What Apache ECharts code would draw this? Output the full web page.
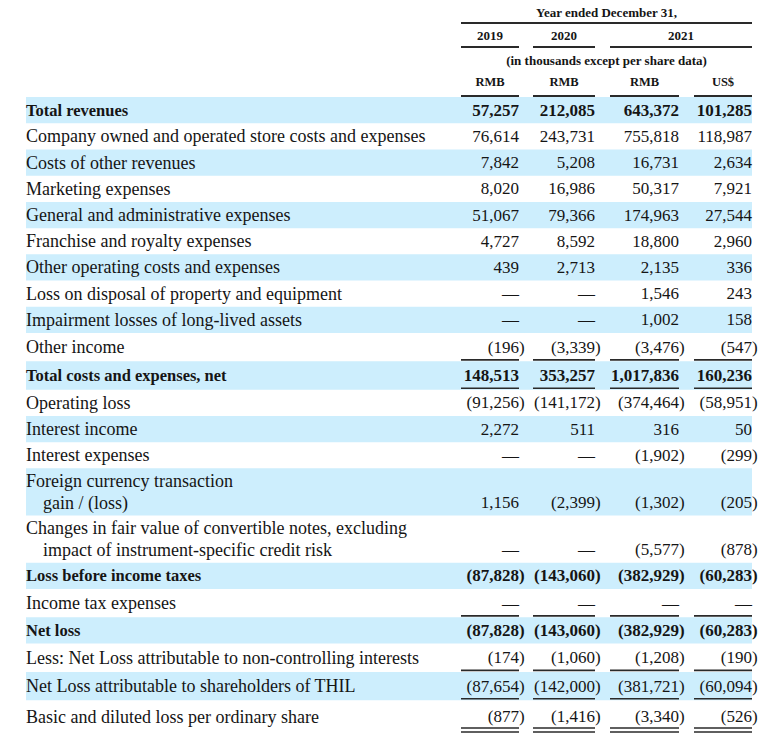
<!DOCTYPE html>
<html><head><meta charset="utf-8">
<script src="https://cdn.jsdelivr.net/npm/echarts@6/dist/echarts.min.js"></script>
<style>html,body{margin:0;padding:0;background:#fff}#chart{width:770px;height:742px}</style>
</head><body><div id="chart"></div>
<script>
// ---------- data ----------
const rowLabels = [
  'Total revenues',
  'Company owned and operated store costs and expenses',
  'Costs of other revenues',
  'Marketing expenses',
  'General and administrative expenses',
  'Franchise and royalty expenses',
  'Other operating costs and expenses',
  'Loss on disposal of property and equipment',
  'Impairment losses of long-lived assets',
  'Other income',
  'Total costs and expenses, net',
  'Operating loss',
  'Interest income',
  'Interest expenses',
  'Foreign currency transaction\ngain / (loss)',
  'Changes in fair value of convertible notes, excluding\nimpact of instrument-specific credit risk',
  'Loss before income taxes',
  'Income tax expenses',
  'Net loss',
  'Less: Net Loss attributable to non-controlling interests',
  'Net Loss attributable to shareholders of THIL',
  'Basic and diluted loss per ordinary share'
];
const boldRows = [0, 10, 16, 18];
const headerTitle = 'Year ended December 31,';
const headerNote = '(in thousands except per share data)';
const yearLabels = ['2019', '2020', '2021'];
const currencyLabels = ['RMB', 'RMB', 'RMB', 'US$'];
const rmb2019 = [57257, 76614, 7842, 8020, 51067, 4727, 439, null, null, -196, 148513, -91256, 2272, null, 1156, null, -87828, null, -87828, -174, -87654, -877];
const rmb2020 = [212085, 243731, 5208, 16986, 79366, 8592, 2713, null, null, -3339, 353257, -141172, 511, null, -2399, null, -143060, null, -143060, -1060, -142000, -1416];
const rmb2021 = [643372, 755818, 16731, 50317, 174963, 18800, 2135, 1546, 1002, -3476, 1017836, -374464, 316, -1902, -1302, -5577, -382929, null, -382929, -1208, -381721, -3340];
const usd2021 = [101285, 118987, 2634, 7921, 27544, 2960, 336, 243, 158, -547, 160236, -58951, 50, -299, -205, -878, -60283, null, -60283, -190, -60094, -526];
const columns = [rmb2019, rmb2020, rmb2021, usd2021];

// ---------- layout / style ----------
const layout = {
  colLeft: [461, 533, 610, 694],
  colRight: [519, 595, 679, 752],
  yearSpans: [[0, 0], [1, 1], [2, 3]],
  bandLeft: 26, bandRight: 752,
  indent: 17, lineGap: 21.5,
  ruleAfter: {9: 1, 10: 1, 17: 1, 19: 1, 20: 1, 21: 2}
};
const textColor = '#151515';
const ruleColor = '#2a2a2a';
const bandColor = '#cdeefd';
const FONT = '"Liberation Serif", "Times New Roman", serif';

const rowWeight = rowLabels.map((l, r) =>
  (l.split('\n').length > 1 ? 1.8 : 1) +
  (layout.ruleAfter[r] === 1 ? 0.08 : layout.ruleAfter[r] === 2 ? 0.25 : 0));
const rowStart = [];
let acc = 0;
rowWeight.forEach(w => { rowStart.push(acc); acc += w; });
const totalUnits = acc;

function fmt(v) {
  const s = Math.abs(v).toString().replace(/\B(?=(\d{3})+(?!\d))/g, ',');
  return v < 0 ? '(' + s : s;
}

function renderItem(params, api) {
  const r = api.value(0);
  const pTop = api.coord([layout.bandLeft, rowStart[r]]);
  const pBot = api.coord([layout.bandRight, rowStart[r] + rowWeight[r]]);
  const children = [];
  if (r % 2 === 0) {
    children.push({type: 'rect', shape: {x: pTop[0], y: pTop[1], width: pBot[0] - pTop[0], height: pBot[1] - pTop[1]}, style: {fill: bandColor}});
  }
  const bold = boldRows.indexOf(r) >= 0;
  const lines = rowLabels[r].split('\n');
  const cy = (pTop[1] + pBot[1]) / 2;
  lines.forEach((t, i) => {
    const ly = cy + (i - (lines.length - 1) / 2) * layout.lineGap;
    children.push({type: 'text', style: {
      text: t, x: pTop[0] + (i > 0 ? layout.indent : 0), y: ly,
      align: 'left', verticalAlign: 'middle',
      font: (bold ? 'bold 16.5px ' : '18px ') + FONT, fill: textColor}});
  });
  const ny = cy + ((lines.length - 1) / 2) * layout.lineGap;
  const numFont = (bold ? 'bold ' : '') + '17px ' + FONT;
  columns.forEach((arr, c) => {
    const v = arr[r];
    const xr = api.coord([layout.colRight[c], 0])[0];
    const txt = v == null ? '\u2014' : fmt(v);
    children.push({type: 'text', style: {text: txt, x: xr, y: ny, align: 'right', verticalAlign: 'middle', font: numFont, fill: textColor}});
    if (v != null && v < 0) {
      children.push({type: 'text', style: {text: ')', x: xr, y: ny, align: 'left', verticalAlign: 'middle', font: numFont, fill: textColor}});
    }
  });
  const rule = layout.ruleAfter[r];
  if (rule) {
    layout.colLeft.forEach((xl, c) => {
      const a = api.coord([xl, 0])[0], b = api.coord([layout.colRight[c], 0])[0];
      const ys = rule === 2 ? [pBot[1] - 5, pBot[1] - 1] : [pBot[1] - 1.5];
      ys.forEach(y => children.push({type: 'line', shape: {x1: a, y1: y, x2: b, y2: y}, style: {stroke: ruleColor, lineWidth: 1.6}}));
    });
  }
  return {type: 'group', children};
}

// header graphics
const hFont = 'bold 13px ' + FONT;
const header = [];
const allLeft = layout.colLeft[0], allRight = layout.colRight[3];
header.push({type: 'text', style: {text: headerTitle, x: (allLeft + allRight) / 2, y: 12, align: 'center', verticalAlign: 'middle', font: hFont, fill: textColor}});
header.push({type: 'line', shape: {x1: allLeft, y1: 23, x2: allRight, y2: 23}, style: {stroke: ruleColor, lineWidth: 2}});
yearLabels.forEach((y, i) => {
  const [s, e] = layout.yearSpans[i];
  const xl = layout.colLeft[s], xr = layout.colRight[e];
  header.push({type: 'text', style: {text: y, x: (xl + xr) / 2, y: 35, align: 'center', verticalAlign: 'middle', font: hFont, fill: textColor}});
  header.push({type: 'line', shape: {x1: xl, y1: 47, x2: xr, y2: 47}, style: {stroke: ruleColor, lineWidth: 2}});
});
header.push({type: 'text', style: {text: headerNote, x: (allLeft + allRight) / 2, y: 60, align: 'center', verticalAlign: 'middle', font: hFont, fill: textColor}});
currencyLabels.forEach((cur, c) => {
  const xl = layout.colLeft[c], xr = layout.colRight[c];
  header.push({type: 'text', style: {text: cur, x: (xl + xr) / 2, y: 82, align: 'center', verticalAlign: 'middle', font: 'bold 12.5px ' + FONT, fill: textColor}});
  header.push({type: 'line', shape: {x1: xl, y1: 96, x2: xr, y2: 96}, style: {stroke: ruleColor, lineWidth: 1.8}});
});

const chart = echarts.init(document.getElementById('chart'), null, {renderer: 'svg'});
chart.setOption({
  animation: false,
  backgroundColor: '#ffffff',
  grid: {left: 0, right: 0, top: 97, bottom: 9},
  xAxis: {type: 'value', min: 0, max: 770, show: false},
  yAxis: {type: 'value', min: 0, max: totalUnits, inverse: true, show: false},
  graphic: header,
  series: [{
    type: 'custom',
    renderItem: renderItem,
    data: rowLabels.map((l, i) => [i]),
    encode: {x: -1, y: 0}
  }]
});
</script>
</body></html>
